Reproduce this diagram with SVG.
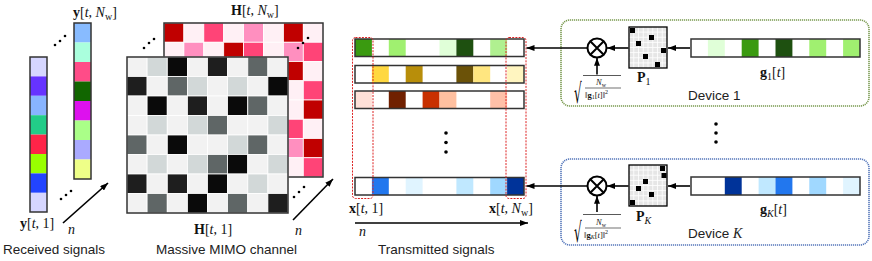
<svg xmlns="http://www.w3.org/2000/svg" width="872" height="261" viewBox="0 0 872 261">
<defs>
<marker id="arr" markerWidth="8" markerHeight="6" refX="8" refY="3" orient="auto" markerUnits="userSpaceOnUse"><path d="M0,0 L8,3 L0,6 z" fill="#000"/></marker>
<style>
.cap{font-family:"Liberation Sans",Arial,sans-serif;font-size:13.5px;fill:#222}
.m{font-family:"Liberation Serif","Times New Roman",serif;font-size:14px;fill:#111}
.b{font-weight:bold}
.i{font-style:italic}
.sub{font-size:10px}
.fr{font-family:"Liberation Serif","Times New Roman",serif;font-size:8.5px;fill:#111}
.box{fill:none;stroke:#333;stroke-width:1.5}
.mc{stroke:#fff;stroke-width:0.8}
.dot{fill:#000}
.conn{stroke:#000;stroke-width:1.6;fill:none}
.red{fill:none;stroke:#dd2222;stroke-width:1;stroke-dasharray:2 1.2}
</style>
</defs>

<!-- Received signals -->
<g id="received-col1">
<rect x="30" y="57" width="17" height="19.4" fill="#d6d6ff"/>
<rect x="30" y="76.4" width="17" height="19.4" fill="#6633ff"/>
<rect x="30" y="95.8" width="17" height="19.4" fill="#88b4ff"/>
<rect x="30" y="115.2" width="17" height="19.4" fill="#22cc88"/>
<rect x="30" y="134.6" width="17" height="19.4" fill="#ff2448"/>
<rect x="30" y="154" width="17" height="19.4" fill="#99ff00"/>
<rect x="30" y="173.4" width="17" height="19.4" fill="#2244ff"/>
<rect x="30" y="192.8" width="17" height="19.2" fill="#d6d6ff"/>
<rect class="box" x="30" y="57" width="17" height="155"/>
</g>
<g id="received-col2">
<rect x="74" y="23" width="17" height="19.5" fill="#88bbff"/>
<rect x="74" y="42.5" width="17" height="19.5" fill="#aaffdd"/>
<rect x="74" y="62" width="17" height="19.5" fill="#ff4c88"/>
<rect x="74" y="81.5" width="17" height="19.5" fill="#116600"/>
<rect x="74" y="101" width="17" height="19.5" fill="#dd11ee"/>
<rect x="74" y="120.5" width="17" height="19.5" fill="#aaff88"/>
<rect x="74" y="140" width="17" height="19.5" fill="#aaaaff"/>
<rect x="74" y="159.5" width="17" height="19.5" fill="#eeff88"/>
<rect class="box" x="74" y="23" width="17" height="156"/>
</g>
<g id="received-labels">
<circle class="dot" cx="55" cy="45" r="1.3"/><circle class="dot" cx="60" cy="41" r="1.3"/><circle class="dot" cx="65" cy="36" r="1.3"/>
<circle class="dot" cx="61" cy="199" r="1.3"/><circle class="dot" cx="66" cy="195" r="1.3"/><circle class="dot" cx="71" cy="191" r="1.3"/>
<text class="m" x="73" y="17"><tspan class="b">y</tspan>[<tspan class="i">t</tspan>, <tspan class="i">N</tspan><tspan class="sub" dy="3">w</tspan><tspan dy="-3">]</tspan></text>
<text class="m" x="20" y="228"><tspan class="b">y</tspan>[<tspan class="i">t</tspan>, 1]</text>
<text class="m i" x="68" y="234">n</text>
<text class="cap" x="3" y="254">Received signals</text>
</g>

<!-- Massive MIMO channel -->
<g id="channel-back">
<rect x="164" y="23" width="159" height="154" fill="#fff0f5"/>
<g class="mc">
<rect x="164" y="23" width="19.9" height="19.25" fill="#c00000"/>
<rect x="183.9" y="23" width="19.9" height="19.25" fill="#fff0f5"/>
<rect x="203.8" y="23" width="19.9" height="19.25" fill="#ff4477"/>
<rect x="223.7" y="23" width="19.9" height="19.25" fill="#fff0f5"/>
<rect x="243.6" y="23" width="19.9" height="19.25" fill="#ff8fbf"/>
<rect x="263.5" y="23" width="19.9" height="19.25" fill="#fff0f5"/>
<rect x="283.4" y="23" width="19.9" height="19.25" fill="#c00000"/>
<rect x="303.3" y="23" width="19.7" height="19.25" fill="#fff0f5"/>
<rect x="164" y="42.25" width="19.9" height="19.25" fill="#fff0f5"/>
<rect x="183.9" y="42.25" width="19.9" height="19.25" fill="#ff8fbf"/>
<rect x="203.8" y="42.25" width="19.9" height="19.25" fill="#fff0f5"/>
<rect x="223.7" y="42.25" width="19.9" height="19.25" fill="#c00000"/>
<rect x="243.6" y="42.25" width="19.9" height="19.25" fill="#ff4477"/>
<rect x="263.5" y="42.25" width="19.9" height="19.25" fill="#fff0f5"/>
<rect x="283.4" y="42.25" width="19.9" height="19.25" fill="#ff8fbf"/>
<rect x="303.3" y="42.25" width="19.7" height="19.25" fill="#ff4477"/>
<rect x="283.4" y="61.5" width="19.9" height="19.25" fill="#c00000"/>
<rect x="303.3" y="61.5" width="19.7" height="19.25" fill="#fff0f5"/>
<rect x="283.4" y="80.75" width="19.9" height="19.25" fill="#fff0f5"/>
<rect x="303.3" y="80.75" width="19.7" height="19.25" fill="#ff4477"/>
<rect x="283.4" y="100" width="19.9" height="19.25" fill="#fff0f5"/>
<rect x="303.3" y="100" width="19.7" height="19.25" fill="#c00000"/>
<rect x="283.4" y="119.25" width="19.9" height="19.25" fill="#ff4477"/>
<rect x="303.3" y="119.25" width="19.7" height="19.25" fill="#fff0f5"/>
<rect x="283.4" y="138.5" width="19.9" height="19.25" fill="#ff8fbf"/>
<rect x="303.3" y="138.5" width="19.7" height="19.25" fill="#c00000"/>
<rect x="283.4" y="157.75" width="19.9" height="19.25" fill="#fff0f5"/>
<rect x="303.3" y="157.75" width="19.7" height="19.25" fill="#ff4477"/>
</g>
<rect class="box" x="164" y="23" width="159" height="154"/>
<circle class="dot" cx="298" cy="48" r="1.3"/><circle class="dot" cx="303" cy="43" r="1.3"/><circle class="dot" cx="308" cy="38" r="1.3"/>
</g>
<g id="channel-front">
<rect x="127" y="57" width="161" height="156" fill="#f2f2f2"/>
<g class="mc">
<rect x="127" y="57" width="20.1" height="19.5" fill="#f2f2f2"/>
<rect x="147.1" y="57" width="20.1" height="19.5" fill="#d2d8d8"/>
<rect x="167.3" y="57" width="20.1" height="19.5" fill="#0a0a0a"/>
<rect x="187.4" y="57" width="20.1" height="19.5" fill="#f2f2f2"/>
<rect x="207.5" y="57" width="20.1" height="19.5" fill="#1e1e1e"/>
<rect x="227.6" y="57" width="20.1" height="19.5" fill="#f2f2f2"/>
<rect x="247.8" y="57" width="20.1" height="19.5" fill="#5f6666"/>
<rect x="267.9" y="57" width="20.1" height="19.5" fill="#f2f2f2"/>
<rect x="127" y="76.5" width="20.1" height="19.5" fill="#1e1e1e"/>
<rect x="147.1" y="76.5" width="20.1" height="19.5" fill="#f2f2f2"/>
<rect x="167.3" y="76.5" width="20.1" height="19.5" fill="#5f6666"/>
<rect x="187.4" y="76.5" width="20.1" height="19.5" fill="#d2d8d8"/>
<rect x="207.5" y="76.5" width="20.1" height="19.5" fill="#f2f2f2"/>
<rect x="227.6" y="76.5" width="20.1" height="19.5" fill="#d2d8d8"/>
<rect x="247.8" y="76.5" width="20.1" height="19.5" fill="#f2f2f2"/>
<rect x="267.9" y="76.5" width="20.1" height="19.5" fill="#0a0a0a"/>
<rect x="127" y="96" width="20.1" height="19.5" fill="#f2f2f2"/>
<rect x="147.1" y="96" width="20.1" height="19.5" fill="#0a0a0a"/>
<rect x="167.3" y="96" width="20.1" height="19.5" fill="#f2f2f2"/>
<rect x="187.4" y="96" width="20.1" height="19.5" fill="#1e1e1e"/>
<rect x="207.5" y="96" width="20.1" height="19.5" fill="#f2f2f2"/>
<rect x="227.6" y="96" width="20.1" height="19.5" fill="#0a0a0a"/>
<rect x="247.8" y="96" width="20.1" height="19.5" fill="#5f6666"/>
<rect x="267.9" y="96" width="20.1" height="19.5" fill="#f2f2f2"/>
<rect x="127" y="115.5" width="20.1" height="19.5" fill="#f2f2f2"/>
<rect x="147.1" y="115.5" width="20.1" height="19.5" fill="#d2d8d8"/>
<rect x="167.3" y="115.5" width="20.1" height="19.5" fill="#f2f2f2"/>
<rect x="187.4" y="115.5" width="20.1" height="19.5" fill="#d2d8d8"/>
<rect x="207.5" y="115.5" width="20.1" height="19.5" fill="#5f6666"/>
<rect x="227.6" y="115.5" width="20.1" height="19.5" fill="#f2f2f2"/>
<rect x="247.8" y="115.5" width="20.1" height="19.5" fill="#f2f2f2"/>
<rect x="267.9" y="115.5" width="20.1" height="19.5" fill="#d2d8d8"/>
<rect x="127" y="135" width="20.1" height="19.5" fill="#5f6666"/>
<rect x="147.1" y="135" width="20.1" height="19.5" fill="#f2f2f2"/>
<rect x="167.3" y="135" width="20.1" height="19.5" fill="#0a0a0a"/>
<rect x="187.4" y="135" width="20.1" height="19.5" fill="#f2f2f2"/>
<rect x="207.5" y="135" width="20.1" height="19.5" fill="#f2f2f2"/>
<rect x="227.6" y="135" width="20.1" height="19.5" fill="#d2d8d8"/>
<rect x="247.8" y="135" width="20.1" height="19.5" fill="#5f6666"/>
<rect x="267.9" y="135" width="20.1" height="19.5" fill="#f2f2f2"/>
<rect x="127" y="154.5" width="20.1" height="19.5" fill="#f2f2f2"/>
<rect x="147.1" y="154.5" width="20.1" height="19.5" fill="#d2d8d8"/>
<rect x="167.3" y="154.5" width="20.1" height="19.5" fill="#f2f2f2"/>
<rect x="187.4" y="154.5" width="20.1" height="19.5" fill="#d2d8d8"/>
<rect x="207.5" y="154.5" width="20.1" height="19.5" fill="#5f6666"/>
<rect x="227.6" y="154.5" width="20.1" height="19.5" fill="#0a0a0a"/>
<rect x="247.8" y="154.5" width="20.1" height="19.5" fill="#f2f2f2"/>
<rect x="267.9" y="154.5" width="20.1" height="19.5" fill="#d2d8d8"/>
<rect x="127" y="174" width="20.1" height="19.5" fill="#1e1e1e"/>
<rect x="147.1" y="174" width="20.1" height="19.5" fill="#f2f2f2"/>
<rect x="167.3" y="174" width="20.1" height="19.5" fill="#1e1e1e"/>
<rect x="187.4" y="174" width="20.1" height="19.5" fill="#f2f2f2"/>
<rect x="207.5" y="174" width="20.1" height="19.5" fill="#0a0a0a"/>
<rect x="227.6" y="174" width="20.1" height="19.5" fill="#f2f2f2"/>
<rect x="247.8" y="174" width="20.1" height="19.5" fill="#d2d8d8"/>
<rect x="267.9" y="174" width="20.1" height="19.5" fill="#f2f2f2"/>
<rect x="127" y="193.5" width="20.1" height="19.5" fill="#f2f2f2"/>
<rect x="147.1" y="193.5" width="20.1" height="19.5" fill="#5f6666"/>
<rect x="167.3" y="193.5" width="20.1" height="19.5" fill="#f2f2f2"/>
<rect x="187.4" y="193.5" width="20.1" height="19.5" fill="#0a0a0a"/>
<rect x="207.5" y="193.5" width="20.1" height="19.5" fill="#f2f2f2"/>
<rect x="227.6" y="193.5" width="20.1" height="19.5" fill="#5f6666"/>
<rect x="247.8" y="193.5" width="20.1" height="19.5" fill="#f2f2f2"/>
<rect x="267.9" y="193.5" width="20.1" height="19.5" fill="#1e1e1e"/>
</g>
<rect class="box" x="127" y="57" width="161" height="156"/>
</g>
<g id="channel-labels">
<circle class="dot" cx="144" cy="48" r="1.3"/><circle class="dot" cx="149" cy="43" r="1.3"/><circle class="dot" cx="154" cy="39" r="1.3"/>
<circle class="dot" cx="294" cy="197" r="1.3"/><circle class="dot" cx="299" cy="192" r="1.3"/><circle class="dot" cx="304" cy="187" r="1.3"/>
<text class="m" x="231" y="15"><tspan class="b">H</tspan>[<tspan class="i">t</tspan>, <tspan class="i">N</tspan><tspan class="sub" dy="3">w</tspan><tspan dy="-3">]</tspan></text>
<text class="m" x="194" y="234"><tspan class="b">H</tspan>[<tspan class="i">t</tspan>, 1]</text>
<text class="m i" x="295" y="235">n</text>
<text class="cap" x="156" y="254">Massive MIMO channel</text>
</g>

<!-- Transmitted signals -->
<g id="tx-row1">
<rect x="355" y="39" width="16.9" height="17.5" fill="#3a9a10"/>
<rect x="388.8" y="39" width="16.9" height="17.5" fill="#a0f070"/>
<rect x="439.5" y="39" width="16.9" height="17.5" fill="#e0ffd8"/>
<rect x="456.4" y="39" width="16.9" height="17.5" fill="#1e5010"/>
<rect x="490.2" y="39" width="16.9" height="17.5" fill="#b0f090"/>
<rect class="box" x="355" y="39" width="169" height="17.5"/>
</g>
<g id="tx-row2">
<rect x="371.9" y="65.5" width="16.9" height="17.5" fill="#ffd840"/>
<rect x="405.7" y="65.5" width="16.9" height="17.5" fill="#b88e0a"/>
<rect x="456.4" y="65.5" width="16.9" height="17.5" fill="#6b5208"/>
<rect x="473.3" y="65.5" width="16.9" height="17.5" fill="#ffe680"/>
<rect x="507.1" y="65.5" width="16.9" height="17.5" fill="#fff5c0"/>
<rect class="box" x="355" y="65.5" width="169" height="17.5"/>
</g>
<g id="tx-row3">
<rect x="355" y="91" width="16.9" height="17.5" fill="#ffe0d8"/>
<rect x="388.8" y="91" width="16.9" height="17.5" fill="#702000"/>
<rect x="422.6" y="91" width="16.9" height="17.5" fill="#c83000"/>
<rect x="439.5" y="91" width="16.9" height="17.5" fill="#ffc0a0"/>
<rect x="490.2" y="91" width="16.9" height="17.5" fill="#ffc0a8"/>
<rect class="box" x="355" y="91" width="169" height="17.5"/>
</g>
<g id="tx-rowK">
<rect x="371.9" y="177.5" width="16.9" height="17.5" fill="#2277ee"/>
<rect x="405.7" y="177.5" width="16.9" height="17.5" fill="#e0f4ff"/>
<rect x="456.4" y="177.5" width="16.9" height="17.5" fill="#c0e8ff"/>
<rect x="490.2" y="177.5" width="16.9" height="17.5" fill="#a0d8ff"/>
<rect x="507.1" y="177.5" width="16.9" height="17.5" fill="#003399"/>
<rect class="box" x="355" y="177.5" width="169" height="17.5"/>
</g>
<g id="tx-labels">
<rect class="red" x="352.5" y="37.5" width="20.5" height="161" rx="3"/>
<rect class="red" x="506" y="37.5" width="20" height="161" rx="3"/>
<circle class="dot" cx="446" cy="133" r="1.8"/><circle class="dot" cx="446" cy="142.5" r="1.8"/><circle class="dot" cx="446" cy="152" r="1.8"/>
<text class="m" x="349" y="213"><tspan class="b">x</tspan>[<tspan class="i">t</tspan>, 1]</text>
<text class="m" x="489" y="213"><tspan class="b">x</tspan>[<tspan class="i">t</tspan>, <tspan class="i">N</tspan><tspan class="sub" dy="3">w</tspan><tspan dy="-3">]</tspan></text>
<text class="m i" x="359" y="236">n</text>
<text class="cap" x="378" y="254">Transmitted signals</text>
</g>

<!-- Device 1 -->
<g id="device-1">
<rect x="561" y="20" width="308" height="86" rx="9" fill="none" stroke="#7a9a50" stroke-width="1.6" stroke-dasharray="1.2 0.8"/>
<g id="g1">
<rect x="707.9" y="39" width="16.9" height="18" fill="#e0ffd8"/>
<rect x="741.7" y="39" width="16.9" height="18" fill="#3a9a10"/>
<rect x="775.5" y="39" width="16.9" height="18" fill="#1e5010"/>
<rect x="809.3" y="39" width="16.9" height="18" fill="#a0f070"/>
<rect x="843.1" y="39" width="16.9" height="18" fill="#a0f070"/>
<rect class="box" x="691" y="39" width="169" height="18"/>
</g>
<g id="P1">
<rect x="629" y="27" width="38" height="41" fill="#e6e6e6"/>
<path d="M633.75 27V68M638.5 27V68M643.25 27V68M648 27V68M652.75 27V68M657.5 27V68M662.25 27V68M629 32.1H667M629 37.25H667M629 42.4H667M629 47.5H667M629 52.6H667M629 57.75H667M629 62.9H667" stroke="#fff" stroke-width="0.8"/>
<rect x="630" y="28" width="5" height="5" fill="#000"/>
<rect x="649" y="35" width="5" height="5" fill="#000"/>
<rect x="636" y="41" width="5" height="5" fill="#000"/>
<rect x="661" y="48" width="5" height="5" fill="#000"/>
<rect x="643" y="54" width="5" height="5" fill="#000"/>
<rect x="655" y="62" width="5" height="5" fill="#000"/>
<rect x="629" y="27" width="38" height="41" fill="none" stroke="#000" stroke-width="1.3"/>
</g>
<g id="mult-1">
<circle cx="597" cy="48" r="9.5" fill="#fff" stroke="#000" stroke-width="2"/>
<path d="M590.3 41.3L603.7 54.7M603.7 41.3L590.3 54.7" stroke="#000" stroke-width="2"/>
</g>
<text class="m" x="637" y="82"><tspan class="b">P</tspan><tspan class="sub" dy="3">1</tspan></text>
<text class="m" x="760" y="77"><tspan class="b">g</tspan><tspan class="sub" dy="3">1</tspan><tspan dy="-3">[</tspan><tspan class="i">t</tspan>]</text>
<text class="cap" x="688" y="100">Device 1</text>
<g id="scale-1">
<text x="574" y="103" font-family="DejaVu Sans,sans-serif" font-size="12" transform="translate(574 103) scale(1 2.3) translate(-574 -103)">√</text>
<line x1="583" y1="75.5" x2="621" y2="75.5" stroke="#111" stroke-width="0.7"/>
<text class="fr i" x="596" y="85">N<tspan font-size="6" font-style="normal" dy="1.5">w</tspan></text>
<line x1="585" y1="88" x2="621" y2="88" stroke="#111" stroke-width="0.6"/>
<text class="fr" x="585" y="97.5">‖<tspan font-weight="bold">g</tspan><tspan font-size="6" dy="1.5">1</tspan><tspan dy="-1.5">[</tspan><tspan font-style="italic">t</tspan>]‖<tspan font-size="6" dy="-3.5">2</tspan></text>
</g>
</g>

<!-- Device K -->
<g id="device-K">
<rect x="561" y="159" width="308" height="86" rx="9" fill="none" stroke="#5577bb" stroke-width="1.6" stroke-dasharray="1.2 0.8"/>
<g id="gK">
<rect x="724.8" y="177" width="16.9" height="18" fill="#003399"/>
<rect x="758.6" y="177" width="16.9" height="18" fill="#c0e8ff"/>
<rect x="775.5" y="177" width="16.9" height="18" fill="#2277ee"/>
<rect x="809.3" y="177" width="16.9" height="18" fill="#a0d8ff"/>
<rect x="843.1" y="177" width="16.9" height="18" fill="#e0f4ff"/>
<rect class="box" x="691" y="177" width="169" height="18"/>
</g>
<g id="PK">
<rect x="629" y="165" width="38" height="41" fill="#e6e6e6"/>
<path d="M633.75 165V206M638.5 165V206M643.25 165V206M648 165V206M652.75 165V206M657.5 165V206M662.25 165V206M629 170.1H667M629 175.25H667M629 180.4H667M629 185.5H667M629 190.6H667M629 195.75H667M629 200.9H667" stroke="#fff" stroke-width="0.8"/>
<rect x="660" y="166" width="5" height="5" fill="#000"/>
<rect x="661.5" y="173" width="5" height="5" fill="#000"/>
<rect x="643" y="179" width="5" height="5" fill="#000"/>
<rect x="636" y="186" width="5" height="5" fill="#000"/>
<rect x="649" y="192" width="5" height="5" fill="#000"/>
<rect x="630" y="200" width="5" height="5" fill="#000"/>
<rect x="629" y="165" width="38" height="41" fill="none" stroke="#000" stroke-width="1.3"/>
</g>
<g id="mult-K">
<circle cx="597" cy="186" r="9.5" fill="#fff" stroke="#000" stroke-width="2"/>
<path d="M590.3 179.3L603.7 192.7M603.7 179.3L590.3 192.7" stroke="#000" stroke-width="2"/>
</g>
<text class="m" x="636" y="221"><tspan class="b">P</tspan><tspan class="sub i" dy="3">K</tspan></text>
<text class="m" x="760" y="214"><tspan class="b">g</tspan><tspan class="sub i" dy="3">K</tspan><tspan dy="-3">[</tspan><tspan class="i">t</tspan>]</text>
<text class="cap" x="688" y="238">Device <tspan font-family="Liberation Serif,serif" font-style="italic" font-size="14">K</tspan></text>
<g id="scale-K">
<text x="574" y="242" font-family="DejaVu Sans,sans-serif" font-size="12" transform="translate(574 242) scale(1 2.3) translate(-574 -242)">√</text>
<line x1="583" y1="214.5" x2="621" y2="214.5" stroke="#111" stroke-width="0.7"/>
<text class="fr i" x="596" y="225">N<tspan font-size="6" font-style="normal" dy="1.5">w</tspan></text>
<line x1="585" y1="228" x2="621" y2="228" stroke="#111" stroke-width="0.6"/>
<text class="fr" x="584" y="237.5">‖<tspan font-weight="bold">g</tspan><tspan font-size="6" font-style="italic" dy="1.5">K</tspan><tspan dy="-1.5">[</tspan><tspan font-style="italic">t</tspan>]‖<tspan font-size="6" dy="-3.5">2</tspan></text>
</g>
</g>

<g id="device-dots">
<circle class="dot" cx="716" cy="124" r="1.8"/><circle class="dot" cx="716" cy="133" r="1.8"/><circle class="dot" cx="716" cy="142" r="1.8"/>
</g>

<!-- Connectors -->
<g id="connectors" class="conn">
<line x1="63" y1="223" x2="108" y2="183" marker-end="url(#arr)"/>
<line x1="293" y1="220" x2="333" y2="179" marker-end="url(#arr)"/>
<line x1="355" y1="223" x2="528" y2="223" marker-end="url(#arr)"/>
<line x1="587.5" y1="48" x2="526.5" y2="48" marker-end="url(#arr)"/>
<line x1="628.5" y1="48" x2="607" y2="48" marker-end="url(#arr)"/>
<line x1="690" y1="48" x2="668" y2="48" marker-end="url(#arr)"/>
<line x1="597" y1="74.5" x2="597" y2="57.8" marker-end="url(#arr)"/>
<line x1="587.5" y1="186" x2="526.5" y2="186" marker-end="url(#arr)"/>
<line x1="628.5" y1="186" x2="607" y2="186" marker-end="url(#arr)"/>
<line x1="690" y1="186" x2="668" y2="186" marker-end="url(#arr)"/>
<line x1="597" y1="212" x2="597" y2="195.8" marker-end="url(#arr)"/>
</g>
</svg>
